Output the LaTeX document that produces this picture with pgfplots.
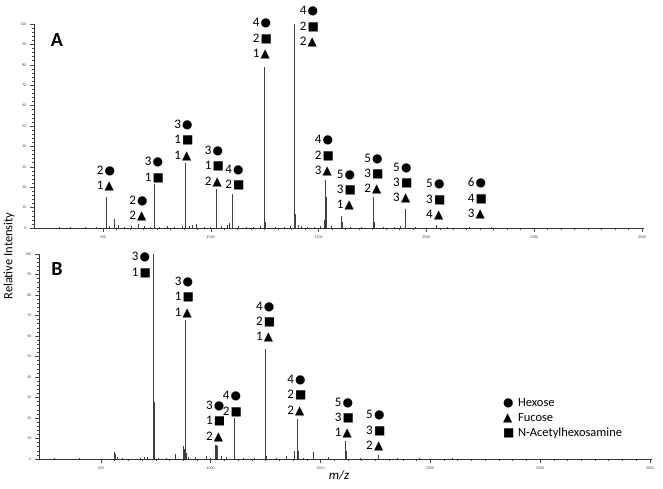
\documentclass[border=0pt]{standalone}
\usepackage{fontspec}
\setmainfont{Carlito}
\newfontfamily\symf{DejaVu Sans}
\usepackage{pgfplots}
\pgfplotsset{compat=1.18}

% glyphs for the three sugars
\newcommand{\Hx}{\kern1.2pt{\symf\fontsize{12}{10}\selectfont ●}}
\newcommand{\Fu}{\kern1.2pt{\symf\fontsize{12}{10}\selectfont ▲}}
\newcommand{\Hn}{\kern1.2pt{\symf\fontsize{12}{10}\selectfont ■}}
\newcommand{\ann}[3]{\node[anchor=south, align=left, inner sep=0pt,
  font=\fontsize{13}{15.3}\selectfont] at (axis cs:#1,#2) {#3};}

\pgfplotstableread{
mz   int
300  0.6
350  0.4
420  0.5
470  0.4
514  15
530  1
554  4.2
570  1.5
600  0.6
632  1.2
663  2
690  0.8
720  0.6
737  21.5
760  0.5
800  0.8
830  0.6
870  0.8
884  32
900  1
915  1.5
935  1.8
970  0.7
1000 0.6
1025 19
1028 2.5
1050 1.2
1075 1.5
1088 2.5
1099 16.5
1101 7.5
1130 0.8
1165 0.7
1200 0.5
1230 0.8
1249 79
1252 2.8
1300 0.6
1340 0.7
1370 1.2
1389 100
1392 7
1405 1.5
1420 0.8
1450 0.6
1480 0.5
1510 1
1528 4
1534 23.5
1536 15
1560 0.8
1607 6
1609 3
1650 0.6
1700 0.5
1754 15
1757 3
1800 0.5
1850 0.6
1880 0.8
1901 9.5
1904 3
1950 0.4
2045 1.5
2100 0.3
2200 0.3
2300 0.3
}\spectrumA

\pgfplotstableread{
mz   int
290  0.3
400  0.4
561  3.6
566  2.5
577  1
600  0.4
680  0.6
700  1
712  0.8
740  100
743  28
760  0.5
800  0.6
837  2.5
875  6.3
878  5
886  68
890  3
900  1
930  0.8
981  1.5
1000 0.6
1023 7
1027 6.8
1031 6.5
1049 1.5
1070 0.8
1106 20
1108 2
1150 0.6
1200 0.5
1250 53.5
1253 1.5
1300 0.4
1345 1.5
1383 4
1395 19.5
1398 4
1420 0.6
1467 3.5
1535 1
1614 9
1616 4
1680 0.5
1763 2
1850 0.3
1950 0.4
2100 0.3
}\spectrumB

\pgfplotsset{
  specaxis/.style={
    scale only axis,
    xmax=3010, ymin=0, ymax=100,
    axis x line=bottom, axis y line=left,
    axis line style={-, black!80, line width=0.9pt},
    xtick={500,1000,...,3000},
    ytick={0,10,...,100},
    minor x tick num=7,
    minor y tick num=4,
    tick align=outside,
    major tick length=4pt, minor tick length=2pt,
    tick style={black!70, line width=0.5pt},
    ticklabel style={font=\fontsize{4}{4}\selectfont, text=black!70},
    /pgf/number format/assume math mode=true,
    /pgf/number format/1000 sep={},
    clip=false,
  },
}

\begin{document}
\begin{tikzpicture}
\path[use as bounding box] (0,0) rectangle (663pt,488pt);

% panel A
\begin{axis}[specaxis, at={(34pt,260pt)}, anchor=south west,
  width=610pt, height=204pt, xmin=180]
\addplot[ycomb, no marks, black!75, line width=0.8pt] table[x=mz, y=int] {\spectrumA};
\ann{514}{18.1}{2\Hx\\1\Fu}
\ann{665}{3.4}{2\Hx\\2\Fu}
\ann{739}{22.2}{3\Hx\\1\Hn}
\ann{876}{33.0}{3\Hx\\1\Hn\\1\Fu}
\ann{1017}{20.2}{3\Hx\\1\Hn\\2\Fu}
\ann{1112}{18.6}{4\Hx\\2\Hn}
\ann{1240}{82.8}{4\Hx\\2\Hn\\1\Fu}
\ann{1458}{88.6}{4\Hx\\2\Hn\\2\Fu}
\ann{1527}{25.5}{4\Hx\\2\Hn\\3\Fu}
\ann{1629}{8.5}{5\Hx\\3\Hn\\1\Fu}
\ann{1757}{16.5}{5\Hx\\3\Hn\\2\Fu}
\ann{1891}{12.1}{5\Hx\\3\Hn\\3\Fu}
\ann{2044}{3.9}{5\Hx\\3\Hn\\4\Fu}
\ann{2237}{4.3}{6\Hx\\4\Hn\\3\Fu}
\end{axis}

% panel B
\begin{axis}[specaxis, at={(39pt,29pt)}, anchor=south west,
  width=613pt, height=205pt, xmin=218]
\addplot[ycomb, no marks, black!75, line width=0.8pt] table[x=mz, y=int] {\spectrumB};
\ann{684}{88.4}{3\Hx\\1\Hn}
\ann{880}{68.9}{3\Hx\\1\Hn\\1\Fu}
\ann{1023}{8.4}{3\Hx\\1\Hn\\2\Fu}
\ann{1099}{20.6}{4\Hx\\2\Hn}
\ann{1250}{56.9}{4\Hx\\2\Hn\\1\Fu}
\ann{1393}{21.1}{4\Hx\\2\Hn\\2\Fu}
\ann{1609}{10.1}{5\Hx\\3\Hn\\1\Fu}
\ann{1752}{3.9}{5\Hx\\3\Hn\\2\Fu}
% legend
\node[anchor=west, inner sep=0pt, font=\fontsize{12.5}{14}\selectfont] at (axis cs:2326,27.3) {\makebox[16pt][l]{\Hx}Hexose};
\node[anchor=west, inner sep=0pt, font=\fontsize{12.5}{14}\selectfont] at (axis cs:2326,20.0) {\makebox[16pt][l]{\Fu}Fucose};
\node[anchor=west, inner sep=0pt, font=\fontsize{12.5}{14}\selectfont] at (axis cs:2326,12.7) {\makebox[16pt][l]{\Hn}N-Acetylhexosamine};
\end{axis}

\node[font=\bfseries\fontsize{20}{20}\selectfont] at (57pt,448pt) {A};
\node[font=\bfseries\fontsize{20}{20}\selectfont] at (57pt,219pt) {B};
\node[rotate=90, font=\fontsize{12.5}{12}\selectfont] at (9pt,232pt) {Relative Intensity};
\node[font=\itshape\fontsize{13}{13}\selectfont, inner sep=1pt] at (339pt,13pt) {m/z};
\end{tikzpicture}
\end{document}
